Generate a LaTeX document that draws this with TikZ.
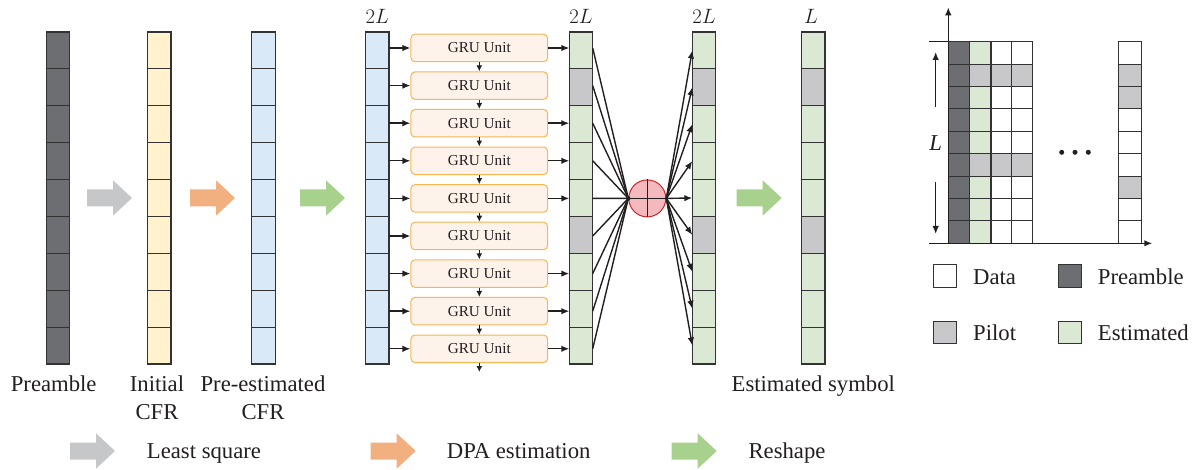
\documentclass[tikz,border=0pt]{standalone}
\usepackage{fontspec}
\setmainfont{Liberation Serif}
\usetikzlibrary{arrows.meta,calc}

\definecolor{preamblecol}{HTML}{6D6E71}
\definecolor{cfrcol}{HTML}{FFF2CC}
\definecolor{precol}{HTML}{DAE9F7}
\definecolor{estcol}{HTML}{DBE8D4}
\definecolor{pilotcol}{HTML}{C8C8CA}
\definecolor{grufill}{HTML}{FDF3EA}
\definecolor{gruedge}{HTML}{F7B553}
\definecolor{sumfill}{HTML}{F4B9BD}
\definecolor{sumedge}{HTML}{D2232A}
\definecolor{lsarrow}{HTML}{C6C7C8}
\definecolor{dpaarrow}{HTML}{F2AF80}
\definecolor{rsarrow}{HTML}{A9D18E}
\definecolor{ink}{HTML}{231F20}
\definecolor{edge}{HTML}{333333}

\tikzset{
  cell/.style={draw=edge, line width=1.1pt, minimum width=23.4pt, minimum height=36.89pt,
    inner sep=0pt, outer sep=0pt},
  gridcell/.style={draw=edge, line width=0.9pt, minimum width=21pt, minimum height=22.4pt,
    inner sep=0pt, outer sep=0pt},
  keybox/.style={draw=edge, line width=0.9pt, minimum width=23.4pt, minimum height=22.7pt,
    inner sep=0pt, outer sep=0pt},
  gru/.style={draw=gruedge, fill=grufill, line width=1pt, rounded corners=4pt,
    minimum width=136.7pt, minimum height=27.5pt, inner sep=0pt, text=ink,
    font=\fontsize{15.2}{18}\selectfont},
  link/.style={draw=ink, line width=1.4pt},
  arr/.style={link, -{Latex[length=8pt,width=6.5pt]}},
  smallarr/.style={link, -{Latex[length=6pt,width=6pt]}},
  lbl/.style={font=\fontsize{22.7}{27.7}\selectfont, text=ink, inner sep=0pt, align=center},
  sizelbl/.style={font=\fontsize{20}{24}\selectfont, text=ink, inner sep=0pt, anchor=base},
  pics/blockarrow/.style={code={
    \fill[#1] (0,-8.5) -- (26,-8.5) -- (26,-17.7) -- (45,0) -- (26,17.7) -- (26,8.5)
      -- (0,8.5) -- cycle;}}
}

\begin{document}
\begin{tikzpicture}[x=1pt, y=-1pt]
\useasboundingbox (0,0) rectangle (1197,470);

% ---------- symbol columns ----------
\foreach \i in {1,...,9}{
  \node[cell, fill=preamblecol] (pa-\i) at (58,   {32+36.89*(\i-0.5)}) {};
  \node[cell, fill=cfrcol]      (ic-\i) at (159.3,{32+36.89*(\i-0.5)}) {};
  \node[cell, fill=precol]      (pe-\i) at (263.5,{32+36.89*(\i-0.5)}) {};
  \node[cell, fill=precol]      (pb-\i) at (377.3,{32+36.89*(\i-0.5)}) {};
}
\foreach \c [count=\i] in {estcol,pilotcol,estcol,estcol,estcol,pilotcol,estcol,estcol,estcol}{
  \node[cell, fill=\c] (es-\i) at (581,  {32+36.89*(\i-0.5)}) {};
  \node[cell, fill=\c] (rc-\i) at (704,  {32+36.89*(\i-0.5)}) {};
  \node[cell, fill=\c] (fs-\i) at (813.3,{32+36.89*(\i-0.5)}) {};
}

% size labels
\node[sizelbl] (sz1) at (377.3,24) {$2L$};
\node[sizelbl] (sz2) at (581,24)   {$2L$};
\node[sizelbl] (sz3) at (704,24)   {$2L$};
\node[sizelbl] (sz4) at (811,24)   {$L$};

% column captions (base anchor sits on the last line)
\node[lbl, anchor=base] (cap1) at (53.7,391)  {Preamble};
\node[lbl, anchor=base] (cap2) at (157,419.3) {Initial\\CFR};
\node[lbl, anchor=base] (cap3) at (263,419.3) {Pre-estimated\\CFR};
\node[lbl, anchor=base] (cap4) at (813.3,391) {Estimated symbol};

% processing arrows between columns
\pic at (87,198)    {blockarrow=lsarrow};
\pic at (190,198)   {blockarrow=dpaarrow};
\pic at (300,198)   {blockarrow=rsarrow};
\pic at (736.7,198) {blockarrow=rsarrow};

% ---------- GRU chain ----------
\foreach \i in {1,...,9}
  \node[gru] (gru\i) at (479.3,{48+37.6*(\i-1)}) {GRU Unit};
\foreach \i in {1,...,9}
  \draw[arr] (gru\i.west -| pb-1.east) -- (gru\i.west);
\foreach \i in {1,3,4,5,7,8,9}
  \draw[arr] (gru\i.east) -- (gru\i.east -| es-1.west);
\foreach \i [evaluate=\i as \j using int(\i+1)] in {1,...,8}
  \draw[smallarr] (gru\i.south) -- (gru\j.north);
\coordinate (gruend) at (479.3,372);
\draw[smallarr] (gru9.south) -- (gruend);

% ---------- combining node ----------
\node[circle, draw=sumedge, fill=sumfill, line width=1pt, minimum size=37pt,
  inner sep=0pt] (sum) at (647.3,198.4) {};
\foreach \i in {1,...,9}
  \draw[link] (gru\i.east -| es-1.east) -- (sum.west);
\draw[link] (sum.north) -- (sum.south);
\draw[link] (sum.west) -- (sum.east);
\fill[ink] (sum.west) circle (2.2pt);
\foreach \i in {1,...,9}
  \draw[arr] (sum.east) -- (rc-\i.west);

% ---------- resource grid ----------
\foreach \r in {1,...,9}{
  \node[gridcell, fill=preamblecol] (g1-\r) at (958.8,{41.7+22.4*(\r-0.5)}) {};
}
\foreach \c [count=\r] in {estcol,pilotcol,estcol,estcol,estcol,pilotcol,estcol,estcol,estcol}
  \node[gridcell, fill=\c] (g2-\r) at (980.1,{41.7+22.4*(\r-0.5)}) {};
\foreach \c [count=\r] in {white,pilotcol,white,white,white,pilotcol,white,white,white}{
  \node[gridcell, fill=\c] (g3-\r) at (1001.5,{41.7+22.4*(\r-0.5)}) {};
  \node[gridcell, fill=\c] (g4-\r) at (1022.4,{41.7+22.4*(\r-0.5)}) {};
}
\foreach \c [count=\r] in {white,pilotcol,pilotcol,white,white,white,pilotcol,white,white}
  \node[gridcell, fill=\c, minimum width=23.4pt] (g5-\r) at (1130,{41.7+22.4*(\r-0.5)}) {};

% axes
\coordinate (origin) at (948.3,243.3);
\coordinate (ytop)   at (948.3,7.3);
\coordinate (xleft)  at (929,243.3);
\coordinate (xright) at (1152.3,243.3);
\coordinate (stub)   at (929,41.7);
\draw[arr, line width=1.5pt] (origin) -- (ytop);
\draw[arr, line width=1.5pt] (xleft) -- (xright);
\draw[link, line width=1.5pt] (stub) -- (g1-1.north west);

% span of L rows
\coordinate (lu0) at (935.7,106.7);
\coordinate (lu1) at (935.7,52);
\coordinate (ld0) at (935.7,181.7);
\coordinate (ld1) at (935.7,234);
\draw[arr] (lu0) -- (lu1);
\draw[arr] (ld0) -- (ld1);
\node[lbl, font=\fontsize{22.7}{27}\selectfont\itshape] (lspan) at (935.7,143) {L};

% ellipsis
\foreach \x in {1061.7,1075,1088.3}
  \fill[ink] (\x,152.3) circle (2.5pt);

% grid key
\node[keybox, fill=white]       (kdata) at (945,276.3) {};
\node[keybox, fill=preamblecol] (kpre)  at (1070,276.3) {};
\node[keybox, fill=pilotcol]    (kpil)  at (945,332.5) {};
\node[keybox, fill=estcol]      (kest)  at (1070,332.5) {};
\node[lbl, anchor=base west] (tdata) at (973,285)    {Data};
\node[lbl, anchor=base west] (tpre)  at (1097.7,285) {Preamble};
\node[lbl, anchor=base west] (tpil)  at (973,340.7)  {Pilot};
\node[lbl, anchor=base west] (test)  at (1097.7,340.7) {Estimated};

% ---------- operation key ----------
\pic at (70,451)    {blockarrow=lsarrow};
\pic at (370.7,451) {blockarrow=dpaarrow};
\pic at (671.7,451) {blockarrow=rsarrow};
\node[lbl, anchor=base] (kls)  at (204,458.3)   {Least square};
\node[lbl, anchor=base] (kdpa) at (518.7,458.3) {DPA estimation};
\node[lbl, anchor=base] (krs)  at (787,458.3)   {Reshape};
\end{tikzpicture}
\end{document}
